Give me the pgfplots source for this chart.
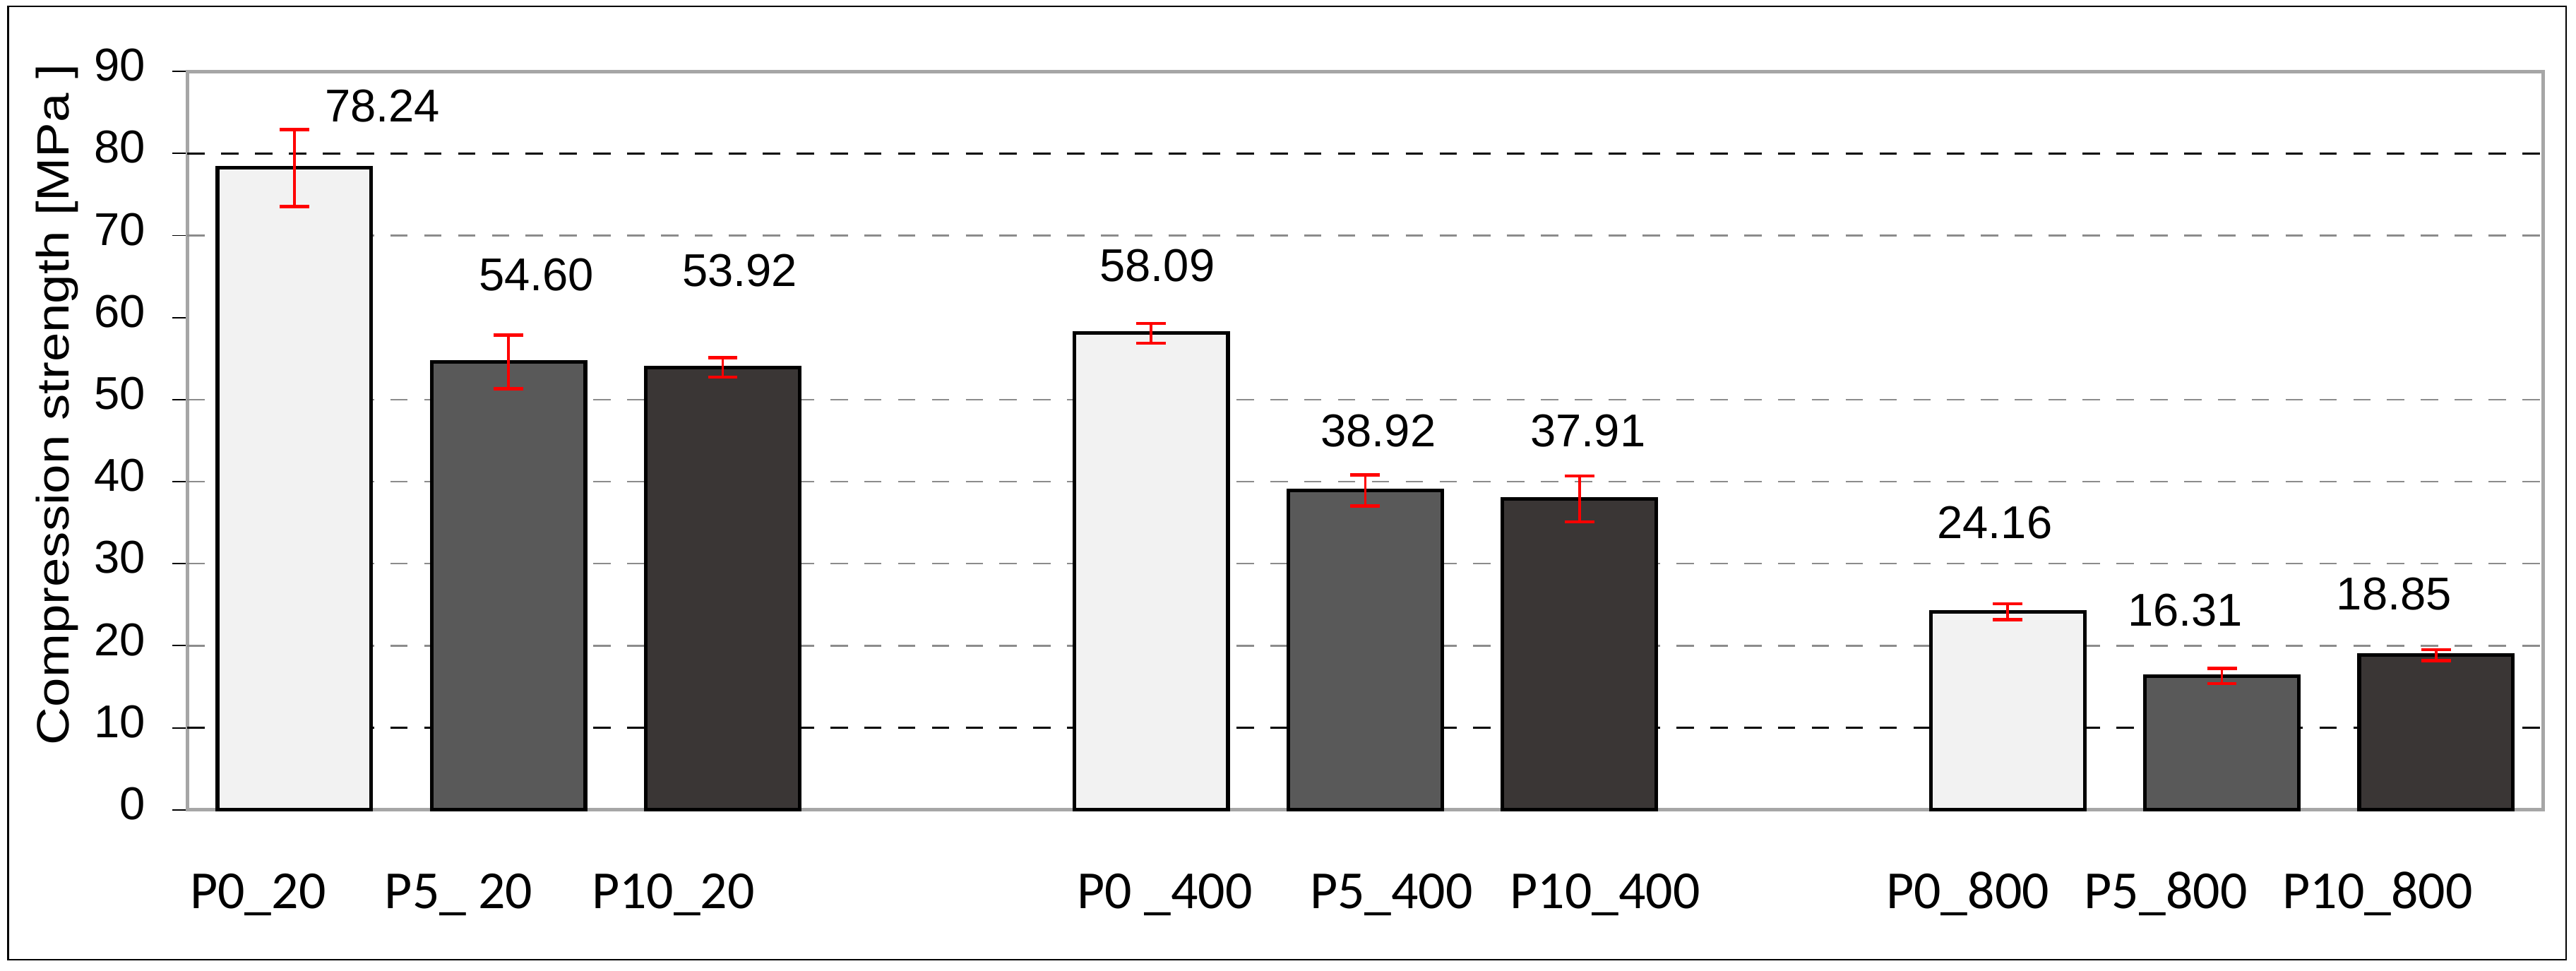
\documentclass[border=0pt]{standalone}
\usepackage{fontspec}
\setmainfont{Liberation Sans}
\newfontfamily\carlito{Carlito}
\usepackage{pgfplots}
\pgfplotsset{compat=1.18}
\definecolor{barlight}{HTML}{F2F2F2}
\definecolor{barmid}{HTML}{595959}
\definecolor{bardark}{HTML}{3A3635}
\definecolor{axgray}{HTML}{A6A6A6}
\definecolor{gridgray}{HTML}{8C8C8C}
\begin{document}
\begin{tikzpicture}
\path[use as bounding box] (-57pt,-49.05pt) rectangle (727pt,246.45pt);
\draw[black, line width=0.5pt] (-54.5pt,-45.6pt) rectangle (724pt,244.45pt);
\begin{axis}[
  at={(0pt,0pt)}, anchor=south west,
  scale only axis, width=717pt, height=224.7pt,
  xmin=-0.5, xmax=10.5, ymin=0, ymax=90,
  axis line style={draw=axgray, line width=1pt},
  ytick={0,10,...,90},
  ytick pos=left,
  tick align=outside,
  major tick length=4.5pt,
  ytick style={black, line width=0.4pt},
  xtick={-0.170,0.767,1.769,4.064,5.122,6.120,7.813,8.738,9.727},
  xticklabels={P0\_20, P5\_ 20, P10\_20, P0 \_400, P5\_400, P10\_400, P0\_800, P5\_800, P10\_800},
  xtick style={draw=none},
  xtick pos=bottom,
  /pgf/number format/assume math mode=true,
  yticklabel style={font=\fontsize{14}{17}\selectfont, inner sep=0pt, anchor=east, xshift=-8pt, yshift=1.9pt},
  xticklabel style={font=\carlito\fontsize{16.3}{19}\selectfont, inner sep=0pt, anchor=base, yshift=-25.5pt},
  ylabel={\scalebox{1.16}[1]{Compression strength [MPa ]}},
  ylabel style={font=\fontsize{13.8}{16}\selectfont, at={(axis description cs:-0.0504,0.549)}, anchor=base, inner sep=0pt},
  clip=false,
]
% grid lines
\addplot[gridgray, line width=0.5pt, dash pattern=on 5.3pt off 5pt, forget plot] coordinates {(-0.5,20) (10.5,20)};
\addplot[gridgray, line width=0.5pt, dash pattern=on 5.3pt off 5pt, forget plot] coordinates {(-0.5,30) (10.5,30)};
\addplot[gridgray, line width=0.5pt, dash pattern=on 5.3pt off 5pt, forget plot] coordinates {(-0.5,40) (10.5,40)};
\addplot[gridgray, line width=0.5pt, dash pattern=on 5.3pt off 5pt, forget plot] coordinates {(-0.5,50) (10.5,50)};
\addplot[gridgray, line width=0.5pt, dash pattern=on 5.3pt off 5pt, forget plot] coordinates {(-0.5,70) (10.5,70)};
\addplot[black, line width=0.5pt, dash pattern=on 5.3pt off 5pt, forget plot] coordinates {(-0.5,10) (10.5,10)};
\addplot[black, line width=0.5pt, dash pattern=on 5.3pt off 5pt, forget plot] coordinates {(-0.5,80) (10.5,80)};
% bars
\addplot[ybar, bar width=0.718, bar shift=0pt, fill=barlight, draw=black, line width=1.1pt,
  error bars/.cd, y dir=both, y explicit,
  error bar style={red, line width=0.8pt},
  error mark options={rotate=90, mark size=4.5pt, red, line width=1pt}]
  coordinates {(0,78.24) +- (0,4.68) (4,58.09) +- (0,1.2) (8,24.16) +- (0,0.97)};
\addplot[ybar, bar width=0.718, bar shift=0pt, fill=barmid, draw=black, line width=1.1pt,
  error bars/.cd, y dir=both, y explicit,
  error bar style={red, line width=0.8pt},
  error mark options={rotate=90, mark size=4.5pt, red, line width=1pt}]
  coordinates {(1,54.60) +- (0,3.25) (5,38.92) +- (0,1.9) (9,16.31) +- (0,0.93)};
\addplot[ybar, bar width=0.718, bar shift=0pt, fill=bardark, draw=black, line width=1.1pt,
  error bars/.cd, y dir=both, y explicit,
  error bar style={red, line width=0.8pt},
  error mark options={rotate=90, mark size=4.5pt, red, line width=1pt}]
  coordinates {(2,53.92) +- (0,1.17) (6,37.91) +- (0,2.8) (10,18.85) +- (0,0.68)};
% value labels
\addplot[draw=none, mark=none, nodes near coords, point meta=explicit symbolic,
  every node near coord/.append style={anchor=center, inner sep=0pt, font=\fontsize{14}{17}\selectfont, black}]
  coordinates {(0.411,85.8)[78.24] (1.130,65.2)[54.60] (2.080,65.7)[53.92]
               (4.029,66.3)[58.09] (5.061,46.2)[38.92] (6.040,46.2)[37.91]
               (7.939,35.0)[24.16] (8.829,24.3)[16.31] (9.804,26.3)[18.85]};
\end{axis}
\end{tikzpicture}
\end{document}
